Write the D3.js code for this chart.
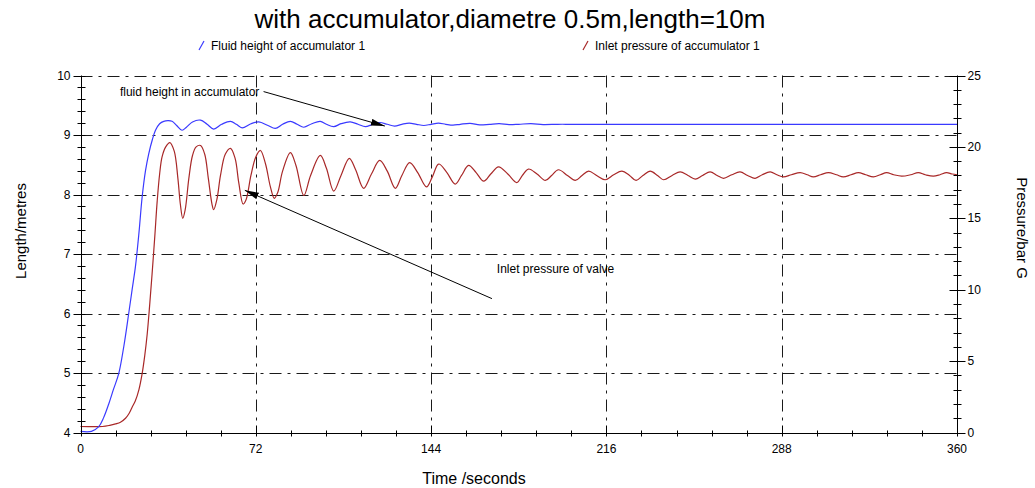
<!DOCTYPE html>
<html>
<head>
<meta charset="utf-8">
<script src="https://cdn.jsdelivr.net/npm/d3@7"></script>
<style>
  body { margin: 0; background: #fff; }
  svg { display: block; font-family: "Liberation Sans", Arial, sans-serif; }
</style>
</head>
<body>
<svg id="chart" width="1035" height="488"></svg>
<script>
const title = "with accumulator,diametre 0.5m,length=10m";
const seriesNames = ["Fluid height of accumulator 1", "Inlet pressure of accumulator 1"];
const xTickValues = [0, 72, 144, 216, 288, 360];
const leftTickValues = [4, 5, 6, 7, 8, 9, 10];
const rightTickValues = [0, 5, 10, 15, 20, 25];

// Fluid height (left axis, metres): [time s, value]
const fluidHeight = [
  [0,4.02],[4.5,4.02],[7.5,4.1],[9.5,4.25],[11.6,4.48],[13.5,4.72],[15.7,4.99],[17.8,5.45],
  [19.8,6.0],[21.2,6.4],[22.6,6.8],[24,7.35],[25.3,7.95],[26.7,8.4],[28,8.68],[29.5,8.92],
  [30.8,9.08],[32.5,9.19],[34.2,9.23],[36,9.24],[37.6,9.23],[39.5,9.16],[41.7,9.08],[43.5,9.13],
  [46,9.22],[49.3,9.25],[52,9.18],[54.7,9.10],[58,9.18],[61.6,9.23],[64,9.18],[66.4,9.12],
  [70,9.19],[73.2,9.22],[77,9.16],[80,9.11],[83,9.18],[86.2,9.23],[89,9.18],[91.7,9.13],
  [95,9.19],[98.5,9.23],[101,9.18],[104,9.14],[107,9.19],[110.8,9.22],[114,9.18],[117,9.14],
  [120,9.18],[123,9.21],[126,9.18],[129,9.15],[132,9.18],[135,9.20],[138,9.18],[141,9.16],
  [144,9.18],[147,9.20],[150,9.18],[153,9.165],[156,9.18],[160,9.195],[164,9.17],[168,9.18],
  [172,9.19],[176,9.175],[180,9.18],[185,9.19],[190,9.175],[196,9.18],[202,9.18],[240,9.18],
  [300,9.18],[360,9.18]
];

// Inlet pressure (right axis, bar G): [time s, value]
const inletPressure = [
  [0,0.42],[9,0.42],[12,0.5],[14.4,0.6],[16.4,0.72],[18.5,1.0],[20,1.35],[21.2,1.77],[22.5,2.2],
  [24,3.0],[25.3,4.1],[26.4,5.4],[27.4,6.9],[28.4,8.9],[29.4,11.1],[30.5,13.7],[31.5,16.2],
  [32.5,18.1],[33.5,19.3],[35,20.0],[36.7,20.3],[38.5,19.7],[40,17.8],[41,16.0],[42,15.0],
  [43,15.6],[44.5,17.8],[46,19.4],[47.5,20.0],[49.3,20.1],[51,19.5],[52.5,17.8],[54,16.0],
  [54.7,15.6],[56,16.3],[57.5,18.0],[59.5,19.5],[61.6,19.9],[63.5,19.2],[65,17.5],[66.8,16.0],
  [68,16.3],[70,18.0],[72,19.3],[73.9,19.75],[76,18.8],[78,17.2],[79.6,16.4],[81,16.8],
  [83,18.3],[86.2,19.6],[88.5,18.7],[91.7,16.6],[94.5,18.0],[98.5,19.4],[101,18.5],[104,16.9],
  [107,18.0],[110.4,19.2],[113,18.4],[116.3,17.1],[119.5,18.1],[122.9,19.05],[126,18.3],
  [129.3,17.1],[132,18.0],[135.2,18.9],[138.5,18.2],[142.1,17.2],[144.5,17.9],[147.1,18.8],
  [150.5,18.2],[153.9,17.4],[156.5,18.0],[159.4,18.7],[162.5,18.2],[165.6,17.6],[168.5,18.1],
  [171.7,18.6],[175.5,18.1],[179.2,17.5],[181.5,18.0],[184,18.45],[187.5,18.1],[190.9,17.65],
  [193.5,18.0],[196.3,18.4],[200,18.0],[203.2,17.65],[206,18.0],[208.7,18.3],[212,18.0],
  [215.5,17.7],[219,18.05],[222.4,18.3],[225.5,18.0],[228.2,17.65],[231,18.0],[234,18.3],
  [237,18.0],[239.5,17.7],[243,18.0],[246.3,18.25],[249.5,18.0],[252.5,17.75],[255.5,18.0],
  [258.6,18.25],[261.5,18.0],[264.1,17.8],[267.5,18.05],[270.9,18.25],[274,18.0],[277.1,17.8],
  [280,18.05],[283.3,18.25],[286,18.05],[288.7,17.9],[292,18.05],[295.6,18.2],[298.5,18.05],
  [301,17.9],[304,18.05],[307.2,18.2],[310.5,18.05],[313.3,17.9],[316.5,18.05],[319.5,18.2],
  [322.5,18.05],[325.7,17.9],[328.5,18.05],[331.1,18.2],[334,18.05],[337.3,17.95],[341,18.05],
  [344.1,18.2],[347,18.05],[350.3,17.95],[353,18.05],[355.7,18.2],[358,18.1],[360,18.05]
];

// annotations in data coordinates (time, left-axis value)
const annotations = [
  { text: "fluid height in accumulator", tx: 16.2, ty: 9.66, x1: 75.2, y1: 9.73, x2: 125, y2: 9.15 },
  { text: "Inlet pressure of valve", tx: 171, ty: 6.68, x1: 169, y1: 6.25, x2: 67.5, y2: 8.07 }
];

const svg = d3.select("#chart");
const x = d3.scaleLinear().domain([0, 360]).range([80.5, 957]);
const yL = d3.scaleLinear().domain([4, 10]).range([432.5, 75.5]);
const yR = d3.scaleLinear().domain([0, 25]).range([432.5, 75.5]);
const gridColor = "#1a1a1a";
const dash = "12,6,3,6";
const blue = "#3a3aff", red = "#a82828";

// title
svg.append("text").attr("x", 510).attr("y", 28).attr("text-anchor", "middle")
  .attr("font-size", 26).attr("fill", "#000").text(title);

// legend
const legend = [
  { x: 199, color: blue, name: seriesNames[0] },
  { x: 583, color: red, name: seriesNames[1] }
];
legend.forEach(l => {
  svg.append("line").attr("x1", l.x).attr("y1", 50).attr("x2", l.x + 5).attr("y2", 41)
    .attr("stroke", l.color).attr("stroke-width", 1.2);
  svg.append("text").attr("x", l.x + 12).attr("y", 49.5).attr("font-size", 12)
    .attr("fill", "#000").text(l.name);
});

// gridlines
const grid = svg.append("g");
[5, 6, 7, 8, 9, 10].forEach(v => {
  grid.append("line").attr("x1", x(0)).attr("x2", x(360))
    .attr("y1", Math.round(yL(v)) + 0.5).attr("y2", Math.round(yL(v)) + 0.5)
    .attr("stroke", gridColor).attr("stroke-dasharray", dash);
});
[72, 144, 216, 288].forEach(t => {
  grid.append("line").attr("y1", yL(10)).attr("y2", yL(4))
    .attr("x1", Math.round(x(t)) + 0.5).attr("x2", Math.round(x(t)) + 0.5)
    .attr("stroke", gridColor).attr("stroke-dasharray", dash);
});

// series
const lineL = d3.line().x(d => x(d[0])).y(d => yL(d[1])).curve(d3.curveCatmullRom.alpha(0.5));
const lineR = d3.line().x(d => x(d[0])).y(d => yR(d[1])).curve(d3.curveCatmullRom.alpha(0.5));
svg.append("path").datum(inletPressure).attr("d", lineR).attr("fill", "none")
  .attr("stroke", red).attr("stroke-width", 1.2);
svg.append("path").datum(fluidHeight).attr("d", lineL).attr("fill", "none")
  .attr("stroke", blue).attr("stroke-width", 1.2);

// axes
const ax = svg.append("g").attr("stroke", "#000").attr("stroke-width", 1);
const X0 = Math.round(x(0)) + 0.5, X1 = Math.round(x(360)) + 0.5, YB = Math.round(yL(4)) + 0.5;
ax.append("line").attr("x1", X0).attr("x2", X0).attr("y1", yL(10)).attr("y2", YB);
ax.append("line").attr("x1", X1).attr("x2", X1).attr("y1", yL(10)).attr("y2", YB);
ax.append("line").attr("x1", X0).attr("x2", X1).attr("y1", YB).attr("y2", YB);

// left ticks
d3.range(0, 31).map(i => 4 + i * 0.2).forEach((v, i) => {
  const yy = Math.round(yL(v)) + 0.5;
  const major = i % 5 === 0;
  ax.append("line").attr("x1", X0 - (major ? 8 : 4)).attr("x2", X0 + 4).attr("y1", yy).attr("y2", yy);
});
// right ticks
d3.range(0, 26).forEach(v => {
  const yy = Math.round(yR(v)) + 0.5;
  const major = v % 5 === 0;
  ax.append("line").attr("x1", X1 - (major ? 8 : 4)).attr("x2", X1 + (major ? 8 : 4)).attr("y1", yy).attr("y2", yy);
});
// bottom ticks
d3.range(0, 26).map(i => i * 14.4).forEach((t, i) => {
  const xx = Math.round(x(t)) + 0.5;
  const major = i % 5 === 0;
  ax.append("line").attr("x1", xx).attr("x2", xx).attr("y1", YB - (major ? 8 : 3)).attr("y2", YB + 3);
});

const lab = svg.append("g").attr("font-size", 12).attr("fill", "#000");
leftTickValues.forEach(v => {
  lab.append("text").attr("x", X0 - 11).attr("y", yL(v) + 4).attr("text-anchor", "end").text(v);
});
rightTickValues.forEach(v => {
  lab.append("text").attr("x", X1 + 10).attr("y", yR(v) + 4).attr("text-anchor", "start").text(v);
});
xTickValues.forEach(t => {
  lab.append("text").attr("x", x(t)).attr("y", 453).attr("text-anchor", "middle").text(t);
});

// axis titles
svg.append("text").attr("transform", "translate(26,231) rotate(-90)").attr("text-anchor", "middle")
  .attr("font-size", 15).attr("fill", "#000").text("Length/metres");
svg.append("text").attr("transform", "translate(1017,228) rotate(90)").attr("text-anchor", "middle")
  .attr("font-size", 15).attr("fill", "#000").text("Pressure/bar G");
svg.append("text").attr("x", 474).attr("y", 484).attr("text-anchor", "middle")
  .attr("font-size", 16).attr("fill", "#000").text("Time /seconds");

// annotations
const defs = svg.append("defs");
defs.append("marker").attr("id", "arr").attr("viewBox", "0 0 14 7").attr("refX", 14).attr("refY", 3.5)
  .attr("markerWidth", 14).attr("markerHeight", 7).attr("markerUnits", "userSpaceOnUse").attr("orient", "auto")
  .append("path").attr("d", "M0,0 L14,3.5 L0,7 z").attr("fill", "#000");
annotations.forEach(a => {
  svg.append("line").attr("x1", x(a.x1)).attr("y1", yL(a.y1)).attr("x2", x(a.x2)).attr("y2", yL(a.y2))
    .attr("stroke", "#000").attr("stroke-width", 1).attr("marker-end", "url(#arr)");
  svg.append("text").attr("x", x(a.tx)).attr("y", yL(a.ty)).attr("font-size", 12).attr("fill", "#000").text(a.text);
});
</script>
</body>
</html>
